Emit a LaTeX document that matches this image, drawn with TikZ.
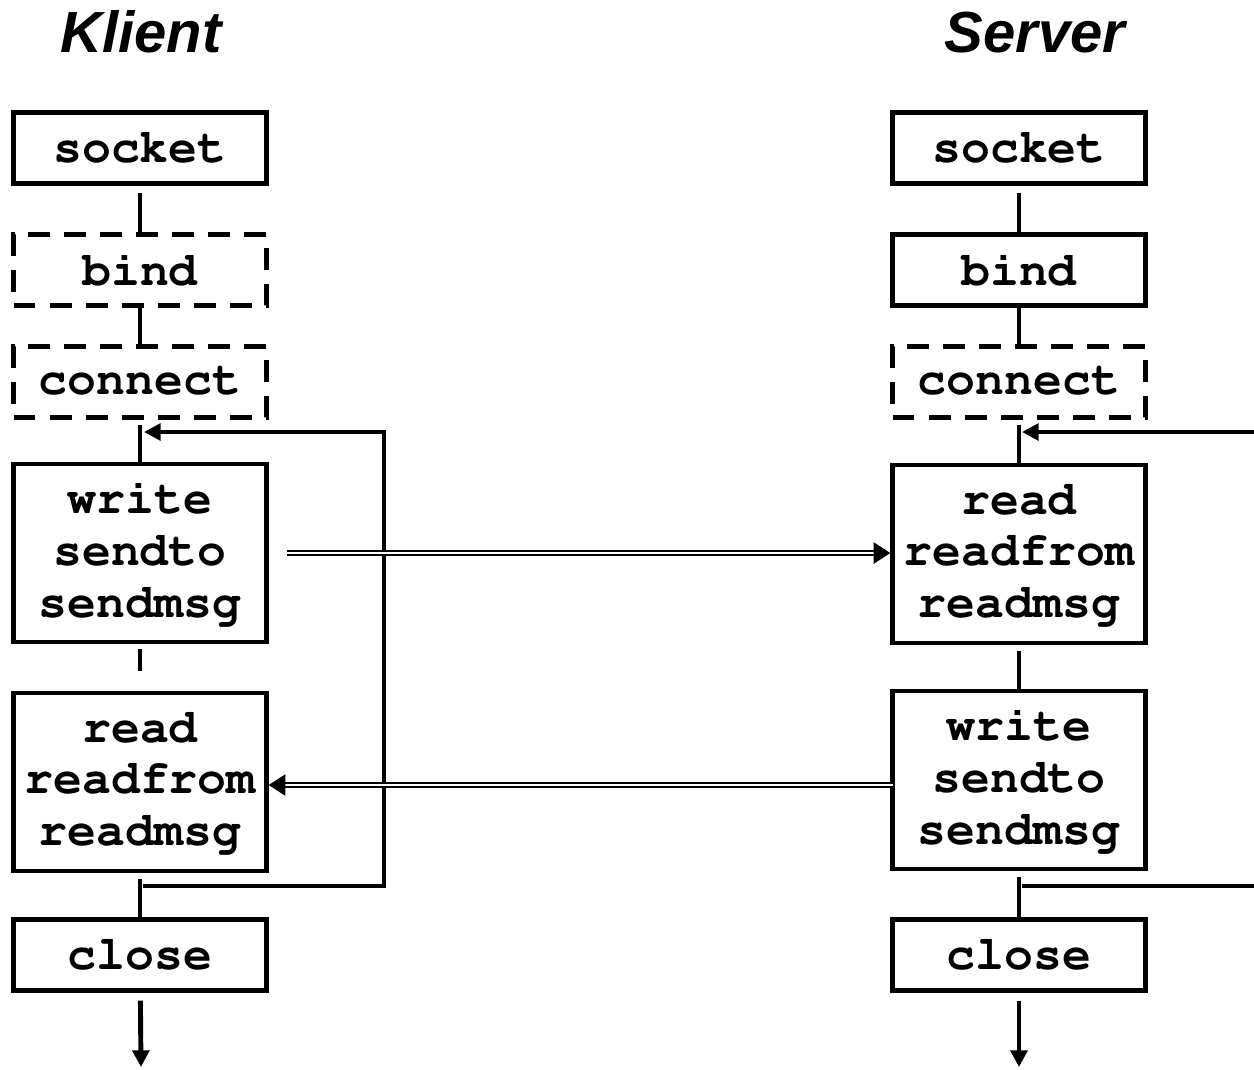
\documentclass[tikz,border=0pt]{standalone}
\usepackage{fontspec}
\newfontfamily\titlefont{Liberation Sans}
\newcommand{\callfont}{\fontencoding{T1}\fontfamily{pcr}\fontseries{b}\fontshape{n}\fontsize{27.4}{29.5}\selectfont}
\usetikzlibrary{arrows.meta,positioning}

\begin{document}
\begin{tikzpicture}[x=0.02cm,y=-0.02cm,
    call/.style={draw,line width=2.5pt,minimum width=5.06cm,minimum height=1.42cm,inner sep=0pt,align=center,
      font=\callfont},
    optcall/.style={call,dash pattern=on 12.5pt off 8pt},
    tallcall/.style={call,minimum height=3.56cm},
    link/.style={line width=2.8pt},
    loop/.style={link,-{Triangle[length=9.5pt,width=9.5pt]}},
    msg/.style={double,line width=1.2pt,double distance=1.3pt,-{Triangle[length=9.5pt,width=12pt]}},
    side/.style={font=\fontsize{33}{36}\selectfont\titlefont\bfseries\itshape,anchor=base}]
    \useasboundingbox (0,0) rectangle (1254,1069);
    % Titles
    \node[side] (klient) at (141,52) {Klient};
    \node[side] (server) at (1035,52) {Server};
    % Klient
    \node[call] (sockK) at (140,148) {socket};
    \node[optcall] (bindK) at (140,270) {bind};
    \node[optcall] (connK) at (140,382) {connect};
    \node[tallcall] (writeK) at (140,553) {write\\sendto\\sendmsg};
    \node[tallcall] (readK) at (140,782) {read\\readfrom\\readmsg};
    \node[call] (closeK) at (140,955) {close};
    % Server
    \node[call] (sockS) at (1019,148) {socket};
    \node[call] (bindS) at (1019,270) {bind};
    \node[optcall] (connS) at (1019,382) {connect};
    \node[tallcall] (readS) at (1019,554) {read\\readfrom\\readmsg};
    \node[tallcall] (writeS) at (1019,780) {write\\sendto\\sendmsg};
    \node[call] (closeS) at (1019,955) {close};
    % Klient flow
    \draw[link,shorten <=0.14cm] (sockK) -- (bindK);
    \draw[link] (bindK) -- (connK);
    \draw[link,shorten <=0.1cm] (connK) -- (writeK);
    \draw[link,shorten <=0.1cm,shorten >=0.4cm] (writeK) -- (readK);
    \draw[link,shorten <=0.12cm] (readK) -- (closeK);
    \coordinate (loopK1) at (143,886);
    \coordinate (loopK2) at (384,886);
    \coordinate (loopK3) at (384,432);
    \coordinate (loopK4) at (144,432);
    \draw[loop] (loopK1) -- (loopK2) -- (loopK3) -- (loopK4);
    \coordinate (endK) at (141,1067);
    \draw[link,-{Triangle[length=9.5pt,width=9.5pt]},shorten <=0.16cm] (closeK) -- (endK);
    % Server flow
    \draw[link,shorten <=0.14cm] (sockS) -- (bindS);
    \draw[link] (bindS) -- (connS);
    \draw[link,shorten <=0.1cm] (connS) -- (readS);
    \draw[link,shorten <=0.12cm] (readS) -- (writeS);
    \draw[link,shorten <=0.12cm] (writeS) -- (closeS);
    \coordinate (loopS1) at (1254,432);
    \coordinate (loopS2) at (1022,432);
    \coordinate (loopS3) at (1022,886);
    \coordinate (loopS4) at (1254,886);
    \draw[loop] (loopS1) -- (loopS2);
    \draw[link] (loopS3) -- (loopS4);
    \coordinate (endS) at (1019,1067);
    \draw[link,-{Triangle[length=9.5pt,width=9.5pt]},shorten <=0.16cm] (closeS) -- (endS);
    % Messages
    \coordinate (sendK) at (287,553);
    \coordinate (backS) at (893,785);
    \draw[msg] (sendK) -- (readS.west |- sendK);
    \draw[msg] (backS) -- (readK.east |- backS);
\end{tikzpicture}
\end{document}
